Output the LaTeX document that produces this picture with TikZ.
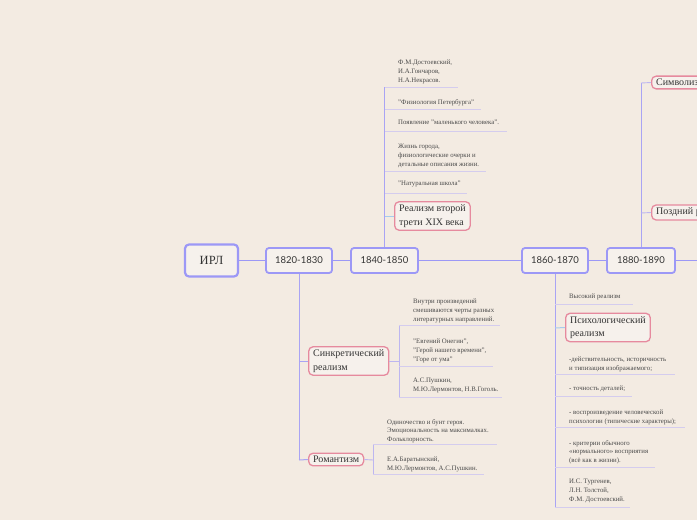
\documentclass[tikz,border=0pt]{standalone}
\usepackage{fontspec}
\setmainfont{Liberation Serif}
\newfontfamily\yearfont{Lato}
\definecolor{bgc}{HTML}{F3EBE2}
\definecolor{boxfill}{HTML}{F6F1EC}
\definecolor{yearc}{HTML}{9C98F6}
\definecolor{pinkc}{HTML}{E68A9E}
\definecolor{trunkc}{HTML}{A9A4F4}
\definecolor{subc}{HTML}{BDB6F0}
\definecolor{ulc}{HTML}{D4CCEE}
\definecolor{bluec}{HTML}{A6CBEE}
\definecolor{txt}{HTML}{333333}
\definecolor{notec}{HTML}{4A4A4A}
\begin{document}
\begin{tikzpicture}[x=1pt,y=-1pt,
 yearbox/.style={draw=yearc, line width=1.8pt, fill=boxfill, rounded corners=3pt, minimum width=66pt, minimum height=25pt, inner sep=0pt, font=\yearfont\fontsize{9.5}{11}\selectfont, text=txt},
 pinkbox/.style={draw=pinkc, line width=1.3pt, fill=boxfill, rounded corners=4.5pt, inner xsep=4.5pt, inner ysep=3pt, align=left, anchor=west, font=\fontsize{10}{13.5}\selectfont, text=txt},
 note/.style={anchor=north west, inner sep=0pt, align=left, font=\fontsize{6.8}{8.7}\selectfont, text=notec},
 link/.style={draw=yearc, line width=1.5pt},
 trunk/.style={draw=trunkc, line width=1pt},
 sub/.style={draw=subc, line width=0.9pt},
 uline/.style={draw=ulc, line width=0.9pt},
 plink/.style={draw=bluec, line width=1pt}]
\fill[bgc] (0,0) rectangle (697,520);
\useasboundingbox (0,0) rectangle (697,520);
\clip (0,0) rectangle (697,520);

% main chain
\node[yearbox, minimum width=53pt, minimum height=32pt, line width=2.2pt, rounded corners=4pt, font=\fontsize{12.5}{14}\selectfont] (irl) at (211.5,260.5) {ИРЛ};
\node[yearbox] (y1) at (299,260.5) {1820-1830};
\node[yearbox, minimum width=67pt] (y2) at (384.5,260.5) {1840-1850};
\node[yearbox] (y3) at (555,260.5) {1860-1870};
\node[yearbox, minimum width=68pt] (y4) at (641,260.5) {1880-1890};
\coordinate (rend) at (697,260.5);
\draw[link] (irl) -- (y1);
\draw[link] (y1) -- (y2);
\draw[link] (y2) -- (y3);
\draw[link] (y3) -- (y4);
\draw[link] (y4) -- (rend);

% ---- 1840-1850 branch
\coordinate (a1) at (384.5,87);
\coordinate (a2) at (384.5,109);
\coordinate (a3) at (384.5,131);
\coordinate (a4) at (384.5,171);
\coordinate (a5) at (384.5,193);
\coordinate (a6) at (384.5,216);
\draw[trunk] (y2.north) -- (a1);
\draw[uline] (a1) -- ++(73.5,0);
\draw[uline] (a2) -- ++(96.5,0);
\draw[uline] (a3) -- ++(122.5,0);
\draw[uline] (a4) -- ++(101.5,0);
\draw[uline] (a5) -- ++(82.5,0);
\node[note] (n1) at (398,60) {Ф.М.Достоевский,\\И.А.Гончаров,\\Н.А.Некрасов.};
\node[note] (n2) at (398,99) {"Физиология Петербурга"};
\node[note] (n3) at (398,120) {Появление "маленького человека".};
\node[note] (n4) at (398,144) {Жизнь города,\\физиологические очерки и\\детальные описания жизни.};
\node[note] (n5) at (398,181) {"Натуральная школа"};
\node[pinkbox] (real) at (394,216) {Реализм второй\\трети XIX века};
\draw[plink] (a6) -- (real.west);

% ---- 1820-1830 branch
\coordinate (b1) at (299,361);
\coordinate (b2) at (299,460);
\draw[trunk] (y1.south) -- (b2);
\node[pinkbox] (sink) at (308,361) {Синкретический\\реализм};
\node[pinkbox] (rom) at (308,459.5) {Романтизм};
\draw[trunk] (b1) -- (sink.west);
\draw[trunk] (b2) -- (rom.west);

\coordinate (s0) at (399,361);
\coordinate (s1) at (399,325);
\coordinate (s2) at (399,366);
\coordinate (s3) at (399,397);
\draw[sub] (sink.east) -- (s0);
\draw[sub] (s1) -- (s3);
\draw[uline] (s1) -- ++(101,0);
\draw[uline] (s2) -- ++(94,0);
\draw[uline] (s3) -- ++(103,0);
\node[note] (m1) at (413,299) {Внутри произведений\\смешиваются черты разных\\литературных направлений.};
\node[note] (m2) at (413,339) {"Евгений Онегин",\\"Герой нашего времени",\\"Горе от ума"};
\node[note] (m3) at (413,378) {А.С.Пушкин,\\М.Ю.Лермонтов, Н.В.Гоголь.};

\coordinate (r0) at (373,460);
\coordinate (r1) at (373,444);
\coordinate (r2) at (373,474);
\draw[sub] (rom.east) -- (r0);
\draw[sub] (r1) -- (r2);
\draw[uline] (r1) -- ++(124,0);
\draw[uline] (r2) -- ++(111,0);
\node[note] (k1) at (387,419) {Одиночество и бунт героя.\\Эмоциональность на максималках.\\Фольклорность.};
\node[note] (k2) at (387,457) {Е.А.Баратынский,\\М.Ю.Лермонтов, А.С.Пушкин.};

% ---- 1860-1870 branch
\coordinate (c1) at (555,304);
\coordinate (c2) at (555,328);
\coordinate (c3) at (555,374);
\coordinate (c4) at (555,396);
\coordinate (c5) at (555,427);
\coordinate (c6) at (555,467);
\coordinate (c7) at (555,507);
\draw[trunk] (y3.south) -- (c7);
\draw[uline] (c1) -- ++(78,0);
\draw[uline] (c3) -- ++(120,0);
\draw[uline] (c4) -- ++(77,0);
\draw[uline] (c5) -- ++(130,0);
\draw[uline] (c6) -- ++(100,0);
\draw[uline] (c7) -- ++(75,0);
\node[pinkbox] (psy) at (565,327.5) {Психологический\\реализм};
\draw[plink] (c2) -- (psy.west);
\node[note] (p1) at (569,294) {Высокий реализм};
\node[note] (p2) at (569,357) {-действительность, историчность\\и типизация изображаемого;};
\node[note] (p3) at (569,386) {- точность деталей;};
\node[note] (p4) at (569,410) {- воспроизведение человеческой\\психологии (типические характеры);};
\node[note] (p5) at (569,440) {- критерии обычного\\«нормального» восприятия\\(всё как в жизни).};
\node[note] (p6) at (569,479) {И.С. Тургенев,\\Л.Н. Толстой,\\Ф.М. Достоевский.};

% ---- 1880-1890 branch
\coordinate (d1) at (641,83);
\coordinate (d2) at (641,213);
\draw[trunk] (y4.north) -- (d1);
\node[pinkbox] (sym) at (651,82.5) {Символизм};
\node[pinkbox] (late) at (651,212.5) {Поздний реализм};
\draw[sub] (d1) -- (sym.west);
\draw[sub] (d2) -- (late.west);
\end{tikzpicture}
\end{document}
